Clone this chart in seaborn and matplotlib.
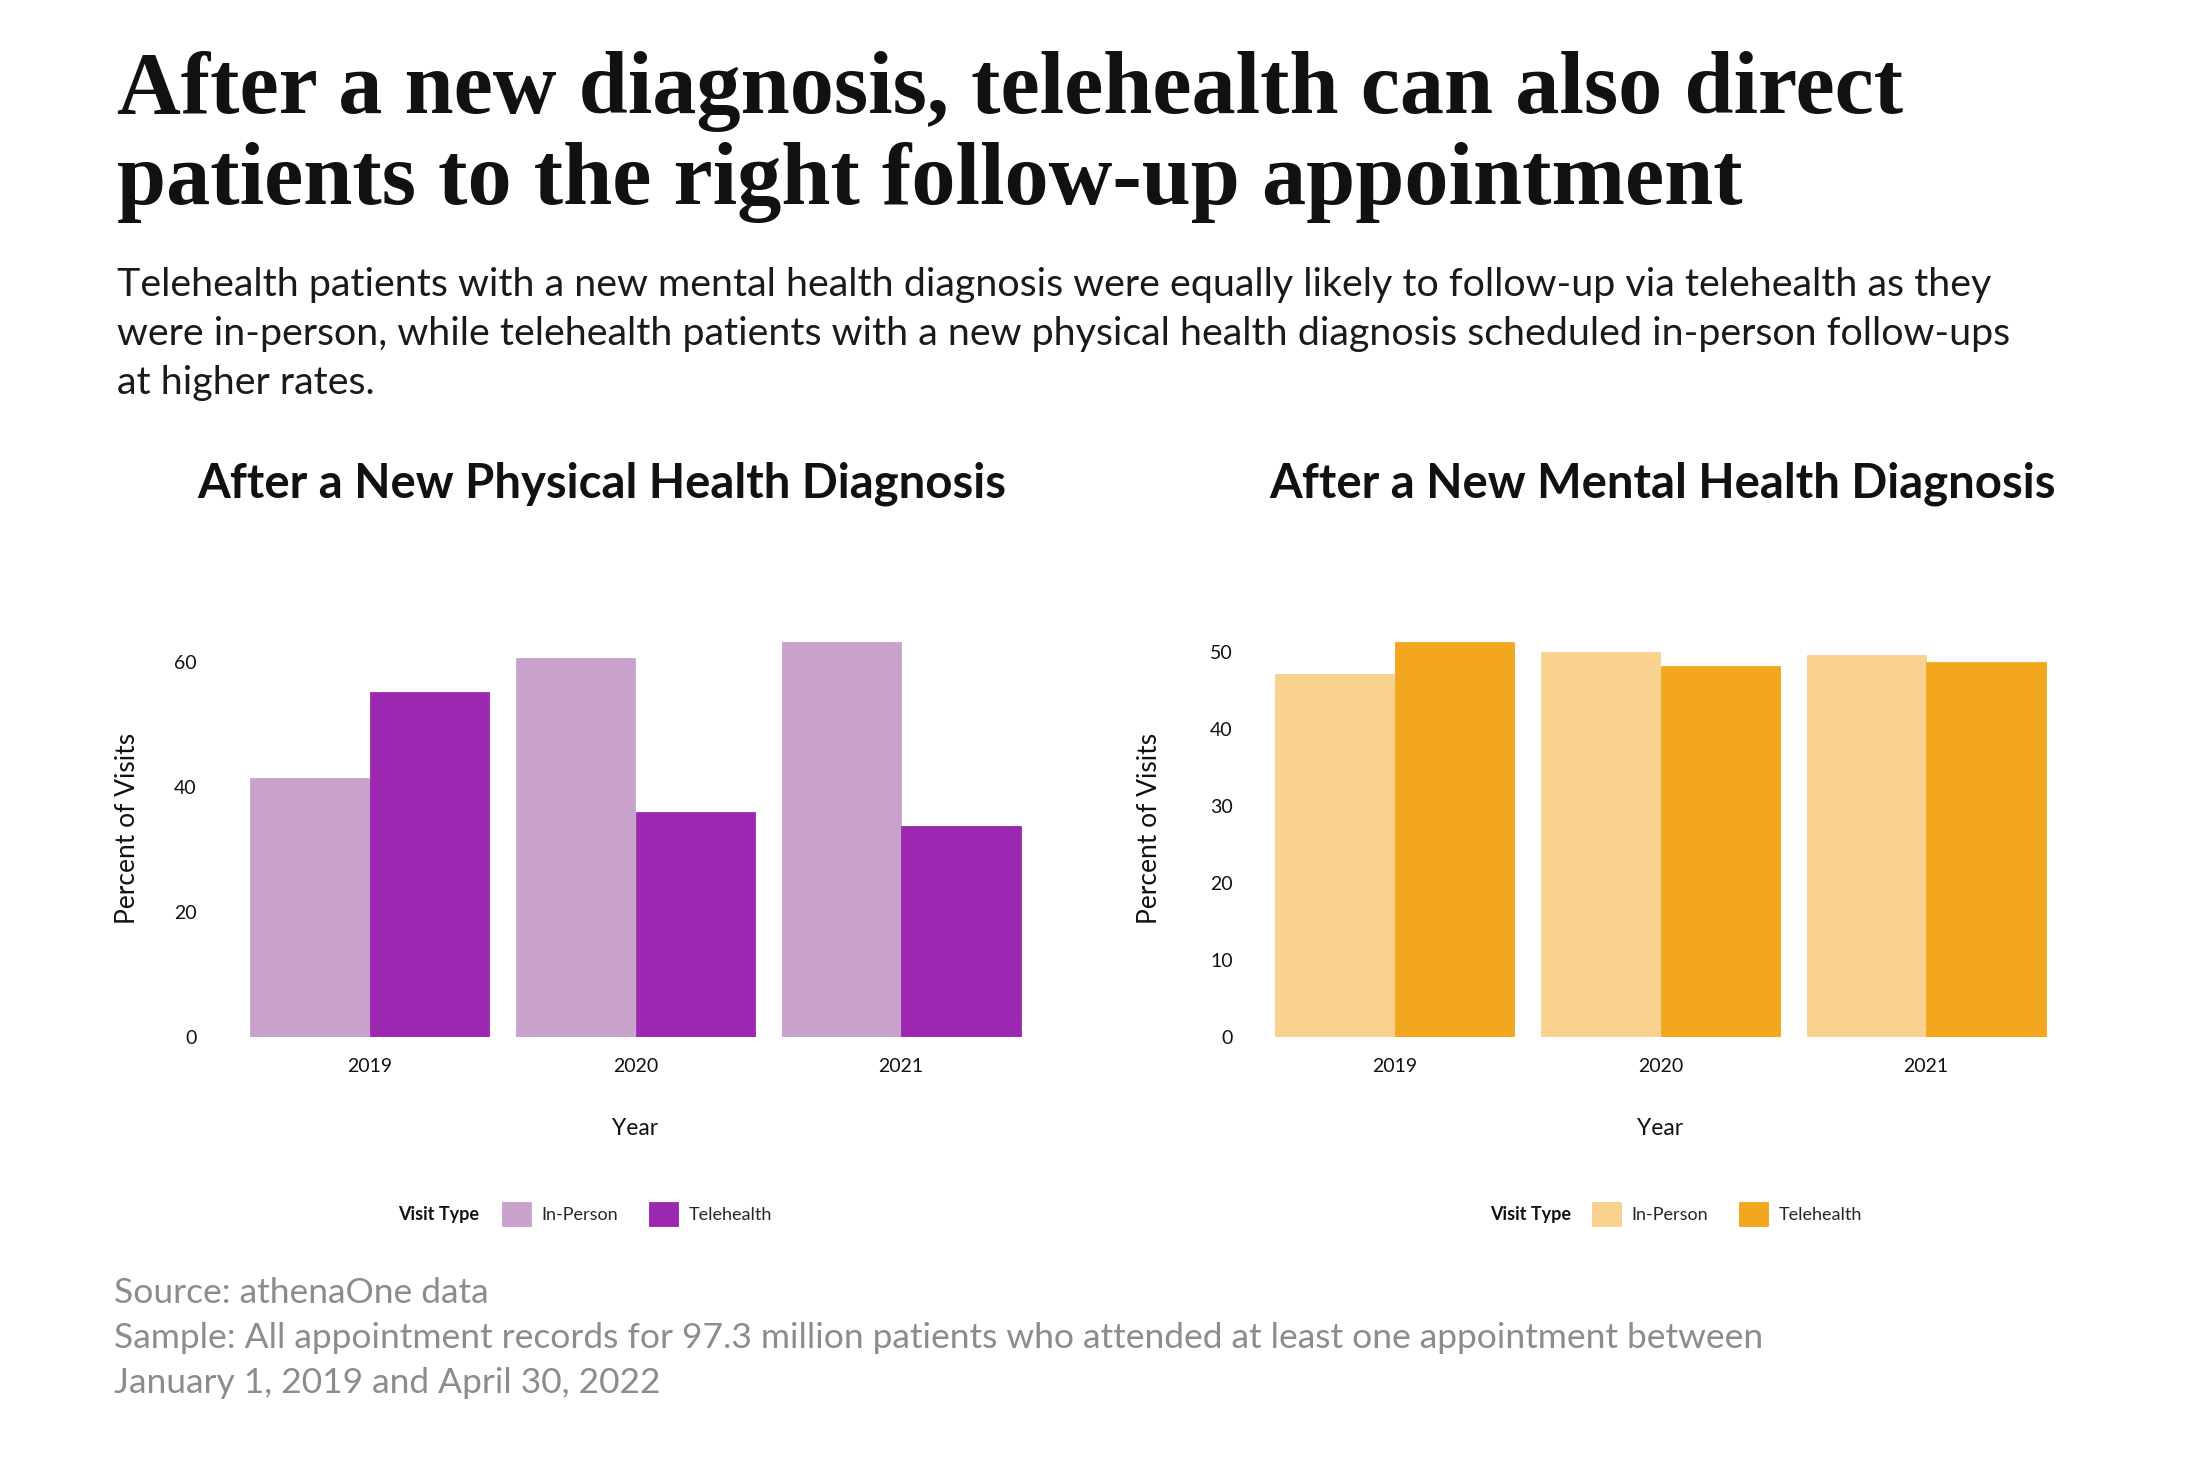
import numpy as np
import matplotlib.pyplot as plt
import pandas as pd
import seaborn as sns

# values (percent of visits)
years = ["2019", "2020", "2021"]
visit_types = ["In-Person", "Telehealth"]
phys_inperson = [41.5, 60.7, 63.3]
phys_tele = [55.3, 36.0, 33.8]
mental_inperson = [47.2, 50.1, 49.6]
mental_tele = [51.3, 48.2, 48.8]

phys_colors = ["#C8A2CB", "#9C27B0"]
mental_colors = ["#F8D28E", "#F3A71E"]

phys_ticks = [0, 20, 40, 60]
mental_ticks = [0, 10, 20, 30, 40, 50]


def make_df(inperson, tele):
    return pd.DataFrame({
        "Year": years * 2,
        "Visit Type": ["In-Person"] * 3 + ["Telehealth"] * 3,
        "Percent": inperson + tele,
    })


sns.set_theme(style="white")
plt.rcParams['font.family'] = ['Lato', 'DejaVu Sans']

W, H = 2209, 1465
fig = plt.figure(figsize=(W / 100, H / 100), dpi=100)

# headline + subtitle
fig.text(117 / W, 0.923, "After a new diagnosis, telehealth can also direct",
         family=['Liberation Serif'], fontweight="bold", fontsize=63.5, va="baseline", color="#111111")
fig.text(117 / W, 0.8606, "patients to the right follow-up appointment",
         family=['Liberation Serif'], fontweight="bold", fontsize=63.5, va="baseline", color="#111111")
sub = ["Telehealth patients with a new mental health diagnosis were equally likely to follow-up via telehealth as they",
       "were in-person, while telehealth patients with a new physical health diagnosis scheduled in-person follow-ups",
       "at higher rates."]
for i, line in enumerate(sub):
    fig.text(117 / W, 0.8055 - i * 0.0335, line, fontsize=28.4, va="center", color="#1a1a1a")

src = ["Source: athenaOne data",
       "Sample: All appointment records for 97.3 million patients who attended at least one appointment between",
       "January 1, 2019 and April 30, 2022"]
for i, line in enumerate(src):
    fig.text(114 / W, 0.1174 - i * 0.0307, line, fontsize=25.5, va="center", color="#8c8c8c")

panels = [
    dict(df=make_df(phys_inperson, phys_tele), colors=phys_colors, ticks=phys_ticks,
         title="After a New Physical Health Diagnosis", left=237, top_ylim=66.8, pad=29,
         ylab_x=-0.122, title_x=602, vt_x=479, leg_x=502),
    dict(df=make_df(mental_inperson, mental_tele), colors=mental_colors, ticks=mental_ticks,
         title="After a New Mental Health Diagnosis", left=1262, top_ylim=54.2, pad=21,
         ylab_x=-0.125, title_x=1663, vt_x=1571, leg_x=1592),
]

for p in panels:
    ax = fig.add_axes([p["left"] / W, 0.2922, 797 / W, 0.2846])
    sns.barplot(data=p["df"], x="Year", y="Percent", hue="Visit Type",
                palette=p["colors"], width=0.9, saturation=1, linewidth=0, ax=ax)
    # close the hairline gap between adjoining bars
    for bar in ax.patches:
        bar.set_edgecolor(bar.get_facecolor())
        bar.set_linewidth(0.6)
    ax.set_ylim(0, p["top_ylim"])
    ax.set_xlim(-0.5, 2.5)
    ax.set_yticks(p["ticks"])
    sns.despine(ax=ax, left=True, bottom=True)
    ax.tick_params(axis="y", length=0, pad=p["pad"], labelsize=14, labelcolor="#111111")
    ax.tick_params(axis="x", length=0, pad=15, labelsize=14, labelcolor="#111111")
    ax.set_ylabel("Percent of Visits", fontsize=19, color="#111111")
    ax.yaxis.set_label_coords(p["ylab_x"], 0.5)
    ax.set_xlabel("Year", fontsize=16.5, color="#111111")
    ax.xaxis.label.set_va("center")
    ax.xaxis.set_label_coords(0.5, -0.22)

    handles, labels = ax.get_legend_handles_labels()
    ax.get_legend().remove()
    fig.legend(handles, labels, loc="center left", bbox_to_anchor=(p["leg_x"] / W, 0.1713),
               ncol=2, frameon=False, fontsize=13, handlelength=1.6, handleheight=1.6,
               handletextpad=0.6, columnspacing=1.7, borderpad=0, borderaxespad=0)
    fig.text(p["vt_x"] / W, 0.1713, "Visit Type", fontsize=13, fontweight="bold",
             ha="right", va="center", color="#111111")
    fig.text(p["title_x"] / W, 0.670, p["title"], fontsize=34, fontweight="bold",
             ha="center", va="center", color="#111111")

fig.savefig("out.png", dpi=100, facecolor="white")
